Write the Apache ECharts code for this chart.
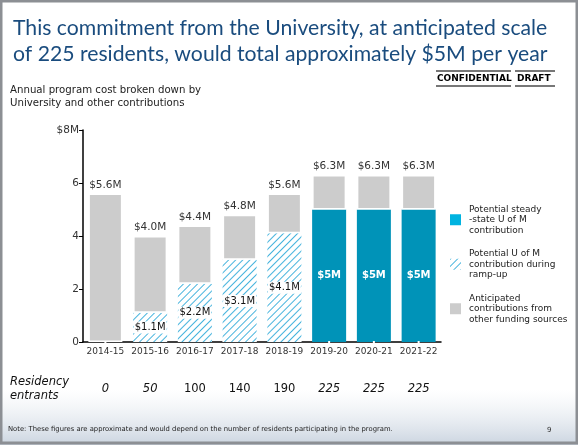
<!DOCTYPE html>
<html>
<head>
<meta charset="utf-8">
<script src="https://cdn.jsdelivr.net/npm/echarts@6/dist/echarts.min.js"></script>
<style>
  html, body { margin: 0; padding: 0; background: #fff; }
  #chart { width: 578px; height: 445px; }
</style>
</head>
<body>
<div id="chart"></div>
<script>
// data
var years = ['2014-15', '2015-16', '2016-17', '2017-18', '2018-19', '2019-20', '2020-21', '2021-22'];
var totals = [5.6, 4.0, 4.4, 4.8, 5.6, 6.3, 6.3, 6.3];
var rampUp = [0, 1.1, 2.2, 3.1, 4.1, 0, 0, 0];
var steady = [0, 0, 0, 0, 0, 5, 5, 5];
var entrants = [0, 50, 100, 140, 190, 225, 225, 225];
var entrantsItalic = [true, true, false, false, false, true, true, true];
var yTicks = [0, 2, 4, 6, 8];

// other funding = total minus University part
var other = totals.map(function (t, i) {
  return +(t - rampUp[i] - steady[i]).toFixed(1);
});

var FONT = '"DejaVu Sans", Verdana, sans-serif';

// diagonal hatch for the ramp-up part
var hatchDecal = {
  symbol: 'rect',
  symbolSize: 1,
  color: '#45b3dd',
  backgroundColor: '#ffffff',
  dashArrayX: [1, 0],
  dashArrayY: [1, 4],
  rotation: -Math.PI / 4
};

var nameSteady = 'Potential steady\n-state U of M\ncontribution';
var nameRamp = 'Potential U of M\ncontribution during\nramp-up';
var nameOther = 'Anticipated\ncontributions from\nother funding sources';

var chart = echarts.init(document.getElementById('chart'));

var option = {
  animation: false,
  backgroundColor: '#fff',
  textStyle: { fontFamily: FONT },
  title: {
    text: 'This commitment from the University, at anticipated scale\nof 225 residents, would total approximately $5M per year',
    left: 8, top: 10,
    textStyle: { fontFamily: 'Lato, "Open Sans", sans-serif', fontSize: 21.2, fontWeight: 'normal', color: '#1a4c7e', lineHeight: 26 }
  },
  grid: { left: 83, right: 137, top: 130, bottom: 103 },
  legend: {
    orient: 'vertical',
    left: 445, top: 199,
    itemWidth: 11, itemHeight: 11,
    itemGap: 13,
    icon: 'rect',
    selectedMode: false,
    textStyle: { fontFamily: FONT, fontSize: 9, color: '#222', lineHeight: 10.5, padding: [0, 0, 0, 3] },
    data: [
      { name: nameSteady, itemStyle: { color: '#00b3e0', borderWidth: 0 } },
      { name: nameRamp, itemStyle: { borderWidth: 0 } },
      { name: nameOther, itemStyle: { borderWidth: 0 } }
    ]
  },
  xAxis: [
    {
      type: 'category',
      data: years,
      axisLine: { lineStyle: { color: '#000', width: 1.5 } },
      axisTick: { show: false },
      axisLabel: { interval: 0, fontFamily: FONT, fontSize: 9, color: '#333', margin: 5 }
    },
    {
      type: 'category',
      data: entrants,
      position: 'bottom',
      offset: 33,
      axisLine: { show: false },
      axisTick: { show: false },
      axisLabel: {
        interval: 0,
        margin: 8,
        formatter: function (v, i) {
          return entrantsItalic[i] ? '{i|' + v + '}' : '{n|' + v + '}';
        },
        rich: {
          i: { fontFamily: FONT, fontSize: 11.5, fontStyle: 'italic', color: '#111' },
          n: { fontFamily: FONT, fontSize: 11.5, color: '#111' }
        }
      }
    }
  ],
  yAxis: {
    type: 'value',
    min: 0, max: 8, interval: 2,
    splitLine: { show: false },
    axisLine: { show: true, lineStyle: { color: '#000', width: 1.5 } },
    axisTick: { show: true, length: 4, lineStyle: { color: '#000' } },
    axisLabel: {
      fontFamily: FONT, fontSize: 10.5, color: '#333', margin: 4,
      formatter: function (v) { return v === yTicks[yTicks.length - 1] ? '$' + v + 'M' : v; }
    }
  },
  series: [
    {
      name: nameRamp,
      type: 'bar',
      stack: 'cost',
      barWidth: 34,
      data: rampUp,
      itemStyle: { color: '#ffffff', decal: hatchDecal },
      label: {
        show: true,
        position: 'inside',
        fontFamily: FONT, fontSize: 10, color: '#111',
        backgroundColor: '#fff', padding: [1, 1],
        formatter: function (p) { return p.value ? '$' + p.value.toFixed(1) + 'M' : ''; }
      }
    },
    {
      name: nameSteady,
      type: 'bar',
      stack: 'cost',
      data: steady,
      itemStyle: { color: '#0093b8' },
      label: {
        show: true,
        position: 'inside',
        fontFamily: FONT, fontSize: 10, fontWeight: 'bold', color: '#fff',
        formatter: function (p) { return p.value ? '$' + p.value + 'M' : ''; }
      }
    },
    {
      name: nameOther,
      type: 'bar',
      stack: 'cost',
      data: other,
      itemStyle: { color: '#cccccc', borderColor: '#fff', borderWidth: 1.5 },
      label: {
        show: true,
        position: 'top',
        distance: 3,
        fontFamily: FONT, fontSize: 10.5, color: '#333',
        formatter: function (p) { return '$' + totals[p.dataIndex].toFixed(1) + 'M'; }
      }
    }
  ],
  graphic: [
    // faint bottom band where the slide has a skyline photo
    {
      type: 'rect', z: -10, silent: true,
      shape: { x: 0, y: 390, width: 578, height: 55 },
      style: {
        fill: new echarts.graphic.LinearGradient(0, 0, 0, 1, [
          { offset: 0, color: 'rgba(225,231,238,0)' },
          { offset: 1, color: 'rgba(200,210,222,0.95)' }
        ])
      }
    },
    // slide frame
    {
      type: 'rect', silent: true, z: 100,
      shape: { x: 1, y: 1, width: 576, height: 442 },
      style: { fill: 'none', stroke: '#8c8f94', lineWidth: 3 }
    },
    {
      type: 'text', left: 10, top: 84,
      style: {
        text: 'Annual program cost broken down by\nUniversity and other contributions',
        fontFamily: FONT, fontSize: 10.2, lineHeight: 13, fill: '#222'
      }
    },
    // confidential / draft stamp
    {
      type: 'group', left: 436, top: 70,
      children: [
        { type: 'text', x: 1, y: 4, style: { text: 'CONFIDENTIAL', fontFamily: FONT, fontSize: 9, fontWeight: 'bold', fill: '#000' } },
        { type: 'text', x: 81, y: 4, style: { text: 'DRAFT', fontFamily: FONT, fontSize: 9, fontWeight: 'bold', fill: '#000' } },
        { type: 'rect', shape: { x: 0, y: 0, width: 75, height: 2 }, style: { fill: '#777' } },
        { type: 'rect', shape: { x: 0, y: 15, width: 75, height: 2 }, style: { fill: '#777' } },
        { type: 'rect', shape: { x: 79, y: 0, width: 40, height: 2 }, style: { fill: '#777' } },
        { type: 'rect', shape: { x: 79, y: 15, width: 40, height: 2 }, style: { fill: '#777' } }
      ]
    },
    {
      type: 'text', left: 10, top: 375,
      style: {
        text: 'Residency\nentrants',
        fontFamily: FONT, fontSize: 11.5, fontStyle: 'italic', lineHeight: 14, fill: '#111'
      }
    },
    {
      type: 'text', left: 8, top: 426,
      style: {
        text: 'Note: These figures are approximate and would depend on the number of residents participating in the program.',
        fontFamily: FONT, fontSize: 6.8, fill: '#222'
      }
    },
    {
      type: 'text', left: 547, top: 427,
      style: { text: '9', fontFamily: FONT, fontSize: 7, fill: '#333' }
    }
  ]
};

chart.setOption(option);
</script>
</body>
</html>
